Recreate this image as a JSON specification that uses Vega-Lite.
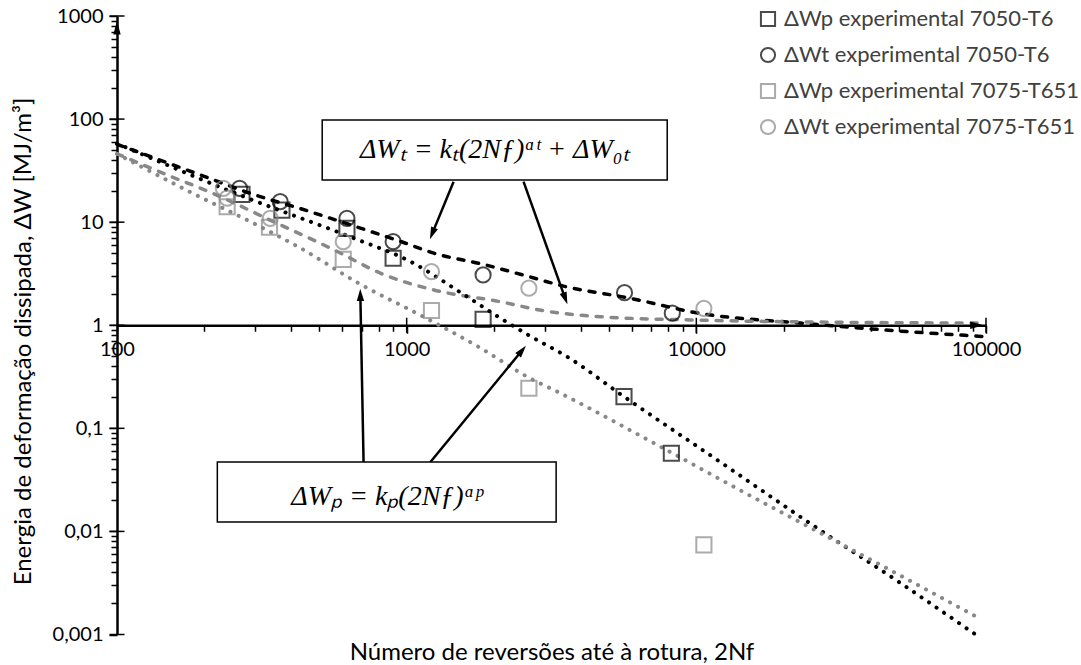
{
  "$schema": "https://vega.github.io/schema/vega-lite/v6.json",
  "width": 869,
  "height": 618.5,
  "autosize": {"type": "none"},
  "padding": {"left": 117, "top": 16, "right": 95, "bottom": 30},
  "background": "#ffffff",
  "config": {"view": {"stroke": null}, "font": "Lato", "axis": {"grid": false}},
  "datasets": {
    "points": [
      {"series": "ΔWp experimental 7050-T6", "x": 270, "y": 18.6},
      {"series": "ΔWp experimental 7050-T6", "x": 371, "y": 13.1},
      {"series": "ΔWp experimental 7050-T6", "x": 622, "y": 8.7},
      {"series": "ΔWp experimental 7050-T6", "x": 898, "y": 4.47},
      {"series": "ΔWp experimental 7050-T6", "x": 1836, "y": 1.14},
      {"series": "ΔWp experimental 7050-T6", "x": 5626, "y": 0.203},
      {"series": "ΔWp experimental 7050-T6", "x": 8200, "y": 0.0573},
      {"series": "ΔWt experimental 7050-T6", "x": 265, "y": 21.3},
      {"series": "ΔWt experimental 7050-T6", "x": 366, "y": 15.8},
      {"series": "ΔWt experimental 7050-T6", "x": 622, "y": 10.9},
      {"series": "ΔWt experimental 7050-T6", "x": 898, "y": 6.47},
      {"series": "ΔWt experimental 7050-T6", "x": 1836, "y": 3.08},
      {"series": "ΔWt experimental 7050-T6", "x": 5650, "y": 2.07},
      {"series": "ΔWt experimental 7050-T6", "x": 8260, "y": 1.31},
      {"series": "ΔWp experimental 7075-T651", "x": 240, "y": 14.1},
      {"series": "ΔWp experimental 7075-T651", "x": 336, "y": 8.93},
      {"series": "ΔWp experimental 7075-T651", "x": 604, "y": 4.36},
      {"series": "ΔWp experimental 7075-T651", "x": 1218, "y": 1.39},
      {"series": "ΔWp experimental 7075-T651", "x": 2642, "y": 0.245},
      {"series": "ΔWp experimental 7075-T651", "x": 10620, "y": 0.0074},
      {"series": "ΔWt experimental 7075-T651", "x": 233, "y": 21.3},
      {"series": "ΔWt experimental 7075-T651", "x": 240, "y": 17.1},
      {"series": "ΔWt experimental 7075-T651", "x": 338, "y": 10.9},
      {"series": "ΔWt experimental 7075-T651", "x": 604, "y": 6.47},
      {"series": "ΔWt experimental 7075-T651", "x": 1218, "y": 3.31},
      {"series": "ΔWt experimental 7075-T651", "x": 2642, "y": 2.29},
      {"series": "ΔWt experimental 7075-T651", "x": 10620, "y": 1.46}
    ],
    "curves": [
      {"curve": "t7050", "x": 100, "y": 57},
      {"curve": "t7050", "x": 194, "y": 28.7},
      {"curve": "t7050", "x": 289, "y": 19},
      {"curve": "t7050", "x": 450, "y": 13},
      {"curve": "t7050", "x": 656, "y": 9.2},
      {"curve": "t7050", "x": 953, "y": 6.5},
      {"curve": "t7050", "x": 1241, "y": 5.0},
      {"curve": "t7050", "x": 1836, "y": 3.9},
      {"curve": "t7050", "x": 2600, "y": 3.0},
      {"curve": "t7050", "x": 3581, "y": 2.35},
      {"curve": "t7050", "x": 5780, "y": 1.85},
      {"curve": "t7050", "x": 10350, "y": 1.3},
      {"curve": "t7050", "x": 22900, "y": 1.05},
      {"curve": "t7050", "x": 50000, "y": 0.88},
      {"curve": "t7050", "x": 100000, "y": 0.775},
      {"curve": "t7075", "x": 100, "y": 46},
      {"curve": "t7075", "x": 150, "y": 28.5},
      {"curve": "t7075", "x": 210, "y": 19.5},
      {"curve": "t7075", "x": 330, "y": 10.8},
      {"curve": "t7075", "x": 560, "y": 5.4},
      {"curve": "t7075", "x": 834, "y": 3.1},
      {"curve": "t7075", "x": 1241, "y": 2.2},
      {"curve": "t7075", "x": 2109, "y": 1.69},
      {"curve": "t7075", "x": 2980, "y": 1.38},
      {"curve": "t7075", "x": 4670, "y": 1.21},
      {"curve": "t7075", "x": 10350, "y": 1.12},
      {"curve": "t7075", "x": 30000, "y": 1.07},
      {"curve": "t7075", "x": 100000, "y": 1.05},
      {"curve": "p7050", "x": 100, "y": 58},
      {"curve": "p7050", "x": 274, "y": 17.7},
      {"curve": "p7050", "x": 656, "y": 7.0},
      {"curve": "p7050", "x": 1004, "y": 4.3},
      {"curve": "p7050", "x": 1618, "y": 1.89},
      {"curve": "p7050", "x": 2109, "y": 1.17},
      {"curve": "p7050", "x": 2680, "y": 0.78},
      {"curve": "p7050", "x": 3581, "y": 0.495},
      {"curve": "p7050", "x": 5626, "y": 0.203},
      {"curve": "p7050", "x": 11800, "y": 0.0494},
      {"curve": "p7050", "x": 26200, "y": 0.0107},
      {"curve": "p7050", "x": 50800, "y": 0.00314},
      {"curve": "p7050", "x": 92000, "y": 0.001},
      {"curve": "p7075", "x": 100, "y": 46},
      {"curve": "p7075", "x": 194, "y": 17.5},
      {"curve": "p7075", "x": 289, "y": 10.1},
      {"curve": "p7075", "x": 430, "y": 5.6},
      {"curve": "p7075", "x": 692, "y": 2.5},
      {"curve": "p7075", "x": 1117, "y": 1.25},
      {"curve": "p7075", "x": 1800, "y": 0.6},
      {"curve": "p7075", "x": 2642, "y": 0.31},
      {"curve": "p7075", "x": 3311, "y": 0.227},
      {"curve": "p7075", "x": 7330, "y": 0.069},
      {"curve": "p7075", "x": 15000, "y": 0.023},
      {"curve": "p7075", "x": 27600, "y": 0.00925},
      {"curve": "p7075", "x": 50000, "y": 0.0038},
      {"curve": "p7075", "x": 95900, "y": 0.00141}
    ],
    "boxes": [
      {"x": 511, "x2": 7934, "y": 98, "y2": 25.6, "tx": 2014, "ty": 50.1, "label": "ΔWₜ = kₜ(2Nƒ)ᵅᵗ + ΔW₀ₜ"},
      {"x": 222, "x2": 3281, "y": 0.0472, "y2": 0.01236, "tx": 855, "ty": 0.0218, "label": "ΔWₚ = kₚ(2Nƒ)ᵅᵖ"}
    ],
    "arrows": [
      {"arrow": "a1", "x": 1452, "y": 24.7, "x2": 1225, "y2": 7.74},
      {"arrow": "a2", "x": 2532, "y": 24.7, "x2": 3528, "y2": 1.815},
      {"arrow": "a3", "x": 710, "y": 0.0469, "x2": 692, "y2": 1.97},
      {"arrow": "a4", "x": 1206, "y": 0.0469, "x2": 2502, "y2": 0.569}
    ],
    "axisarrows": [
      {"dir": "up", "x": 100, "y": 770},
      {"dir": "right", "x": 93000, "y": 1}
    ],
    "xmajor": [
      {"x": 1000, "y": 1},
      {"x": 10000, "y": 1},
      {"x": 100000, "y": 1}
    ],
    "ymajor": [
      {"x": 100, "y": 0.001},
      {"x": 100, "y": 0.01},
      {"x": 100, "y": 0.1},
      {"x": 100, "y": 1},
      {"x": 100, "y": 10},
      {"x": 100, "y": 100},
      {"x": 100, "y": 1000}
    ]
  },
  "layer": [
    {
      "data": {"name": "curves"},
      "transform": [{"filter": "datum.curve === 't7050'"}],
      "mark": {"type": "line", "color": "#000000", "strokeWidth": 3.5, "strokeDash": [6, 9], "strokeCap": "round", "interpolate": "monotone"},
      "encoding": {
        "x": {
          "field": "x", "type": "quantitative",
          "scale": {"type": "log", "domain": [100, 100000], "nice": false},
          "axis": {
            "title": "Número de reversões até à rotura, 2Nf",
            "offset": -309.25,
            "values": [100,200,300,400,500,600,700,800,900,1000,2000,3000,4000,5000,6000,7000,8000,9000,10000,20000,30000,40000,50000,60000,70000,80000,90000,100000],
            "labelExpr": "abs(log(datum.value)/LN10 - round(log(datum.value)/LN10)) < 0.001 ? format(datum.value, 'd') : ''",
            "labelOverlap": false,
            "labelFlush": false,
            "labelFontSize": 20,
            "labelColor": "#000000",
            "labelPadding": 6,
            "tickSize": {"condition": {"test": "abs(log(datum.value)/LN10 - round(log(datum.value)/LN10)) < 0.001", "value": 8}, "value": 6},
            "tickColor": "#000000",
            "tickWidth": 1.5,
            "domainColor": "#000000",
            "domainWidth": 2.5,
            "titleFontSize": 24,
            "titleFontWeight": "normal",
            "titleColor": "#000000",
            "titleY": 327,
            "titleBaseline": "middle"
          }
        },
        "y": {
          "field": "y", "type": "quantitative",
          "scale": {"type": "log", "domain": [0.001, 1000], "nice": false},
          "axis": {
            "title": "Energia de deformação dissipada, ΔW [MJ/m³]",
            "values": [0.001,0.002,0.003,0.004,0.005,0.006,0.007,0.008,0.009,0.01,0.02,0.03,0.04,0.05,0.06,0.07,0.08,0.09,0.1,0.2,0.3,0.4,0.5,0.6,0.7,0.8,0.9,1,2,3,4,5,6,7,8,9,10,20,30,40,50,60,70,80,90,100,200,300,400,500,600,700,800,900,1000],
            "labelExpr": "abs(log(datum.value)/LN10 - round(log(datum.value)/LN10)) < 0.001 ? (datum.value >= 1 ? format(datum.value, 'd') : replace(format(datum.value, '~g'), '.', ',')) : ''",
            "labelOverlap": false,
            "labelFlush": false,
            "labelFontSize": 20,
            "labelColor": "#000000",
            "labelPadding": 6,
            "tickSize": {"condition": {"test": "abs(log(datum.value)/LN10 - round(log(datum.value)/LN10)) < 0.001", "value": 8}, "value": 6},
            "tickColor": "#000000",
            "tickWidth": 1.5,
            "domainColor": "#000000",
            "domainWidth": 2.5,
            "titleFontSize": 24,
            "titleFontWeight": "normal",
            "titleColor": "#000000",
            "titleX": -94,
            "titleY": 325,
            "titleAngle": 270,
            "titleAlign": "center",
            "titleBaseline": "middle"
          }
        }
      }
    },
    {
      "data": {"name": "curves"},
      "transform": [{"filter": "datum.curve === 't7075'"}],
      "mark": {"type": "line", "color": "#888888", "strokeWidth": 3.5, "strokeDash": [6, 9], "strokeCap": "round", "interpolate": "monotone"},
      "encoding": {
        "x": {"field": "x", "type": "quantitative"},
        "y": {"field": "y", "type": "quantitative"}
      }
    },
    {
      "data": {"name": "curves"},
      "transform": [{"filter": "datum.curve === 'p7050'"}],
      "mark": {"type": "line", "color": "#000000", "strokeWidth": 4, "strokeDash": [0.1, 9], "strokeCap": "round", "interpolate": "monotone"},
      "encoding": {
        "x": {"field": "x", "type": "quantitative"},
        "y": {"field": "y", "type": "quantitative"}
      }
    },
    {
      "data": {"name": "curves"},
      "transform": [{"filter": "datum.curve === 'p7075'"}],
      "mark": {"type": "line", "color": "#888888", "strokeWidth": 4, "strokeDash": [0.1, 9], "strokeCap": "round", "interpolate": "monotone"},
      "encoding": {
        "x": {"field": "x", "type": "quantitative"},
        "y": {"field": "y", "type": "quantitative"}
      }
    },
    {
      "data": {"name": "xmajor"},
      "mark": {"type": "tick", "orient": "vertical", "color": "#000000", "size": 15, "thickness": 1.5, "opacity": 1},
      "encoding": {
        "x": {"field": "x", "type": "quantitative"},
        "y": {"field": "y", "type": "quantitative"}
      }
    },
    {
      "data": {"name": "ymajor"},
      "mark": {"type": "tick", "orient": "horizontal", "color": "#000000", "size": 15, "thickness": 1.5, "opacity": 1},
      "encoding": {
        "x": {"field": "x", "type": "quantitative"},
        "y": {"field": "y", "type": "quantitative"}
      }
    },
    {
      "data": {"name": "points"},
      "mark": {"type": "point", "filled": false, "size": 230, "strokeWidth": 2},
      "encoding": {
        "x": {"field": "x", "type": "quantitative"},
        "y": {"field": "y", "type": "quantitative"},
        "shape": {
          "field": "series", "type": "nominal",
          "scale": {"domain": ["ΔWp experimental 7050-T6", "ΔWt experimental 7050-T6", "ΔWp experimental 7075-T651", "ΔWt experimental 7075-T651"], "range": ["square", "circle", "square", "circle"]},
          "legend": {"title": null, "orient": "none", "legendX": 640, "legendY": -8, "labelFontSize": 22, "labelColor": "#404040", "labelFont": "Lato", "labelLimit": 0, "symbolSize": 200, "symbolStrokeWidth": 2, "rowPadding": 12, "labelOffset": 5, "symbolOffset": 0}
        },
        "stroke": {
          "field": "series", "type": "nominal",
          "scale": {"domain": ["ΔWp experimental 7050-T6", "ΔWt experimental 7050-T6", "ΔWp experimental 7075-T651", "ΔWt experimental 7075-T651"], "range": ["#000000", "#000000", "#888888", "#888888"]},
          "legend": {"title": null, "orient": "none", "legendX": 640, "legendY": -8, "labelFontSize": 22, "labelColor": "#404040", "labelFont": "Lato", "labelLimit": 0, "symbolSize": 200, "symbolStrokeWidth": 2, "rowPadding": 12, "labelOffset": 5, "symbolOffset": 0}
        }
      }
    },
    {
      "data": {"name": "arrows"},
      "mark": {"type": "rule", "color": "#000000", "strokeWidth": 2.5},
      "encoding": {
        "x": {"field": "x", "type": "quantitative"},
        "y": {"field": "y", "type": "quantitative"},
        "x2": {"field": "x2"},
        "y2": {"field": "y2"}
      }
    },
    {
      "data": {"name": "arrows"},
      "transform": [{"filter": "datum.arrow === 'a1'"}],
      "mark": {"type": "point", "shape": "M 0 -1 L 0.6 1 L -0.6 1 Z", "filled": true, "color": "#000000", "size": 150, "angle": 202, "opacity": 1},
      "encoding": {"x": {"field": "x2", "type": "quantitative"}, "y": {"field": "y2", "type": "quantitative"}}
    },
    {
      "data": {"name": "arrows"},
      "transform": [{"filter": "datum.arrow === 'a2'"}],
      "mark": {"type": "point", "shape": "M 0 -1 L 0.6 1 L -0.6 1 Z", "filled": true, "color": "#000000", "size": 150, "angle": 160, "opacity": 1},
      "encoding": {"x": {"field": "x2", "type": "quantitative"}, "y": {"field": "y2", "type": "quantitative"}}
    },
    {
      "data": {"name": "arrows"},
      "transform": [{"filter": "datum.arrow === 'a3'"}],
      "mark": {"type": "point", "shape": "M 0 -1 L 0.6 1 L -0.6 1 Z", "filled": true, "color": "#000000", "size": 150, "angle": 359, "opacity": 1},
      "encoding": {"x": {"field": "x2", "type": "quantitative"}, "y": {"field": "y2", "type": "quantitative"}}
    },
    {
      "data": {"name": "arrows"},
      "transform": [{"filter": "datum.arrow === 'a4'"}],
      "mark": {"type": "point", "shape": "M 0 -1 L 0.6 1 L -0.6 1 Z", "filled": true, "color": "#000000", "size": 150, "angle": 39, "opacity": 1},
      "encoding": {"x": {"field": "x2", "type": "quantitative"}, "y": {"field": "y2", "type": "quantitative"}}
    },
    {
      "data": {"name": "boxes"},
      "mark": {"type": "rect", "fill": "#ffffff", "stroke": "#000000", "strokeWidth": 1.5},
      "encoding": {
        "x": {"field": "x", "type": "quantitative"},
        "x2": {"field": "x2"},
        "y": {"field": "y", "type": "quantitative"},
        "y2": {"field": "y2"}
      }
    },
    {
      "data": {"name": "boxes"},
      "mark": {"type": "text", "font": "Liberation Serif", "fontStyle": "italic", "fontSize": 28, "align": "center", "baseline": "middle", "color": "#000000"},
      "encoding": {
        "x": {"field": "tx", "type": "quantitative"},
        "y": {"field": "ty", "type": "quantitative"},
        "text": {"field": "label"}
      }
    },
    {
      "data": {"name": "axisarrows"},
      "transform": [{"filter": "datum.dir === 'up'"}],
      "mark": {"type": "point", "shape": "M 0 -1 L 0.55 1 L -0.55 1 Z", "filled": true, "color": "#000000", "size": 180, "opacity": 1},
      "encoding": {"x": {"field": "x", "type": "quantitative"}, "y": {"field": "y", "type": "quantitative"}}
    },
    {
      "data": {"name": "axisarrows"},
      "transform": [{"filter": "datum.dir === 'right'"}],
      "mark": {"type": "point", "shape": "M 1 0 L -1 -0.55 L -1 0.55 Z", "filled": true, "color": "#000000", "size": 180, "opacity": 1},
      "encoding": {"x": {"field": "x", "type": "quantitative"}, "y": {"field": "y", "type": "quantitative"}}
    }
  ]
}
